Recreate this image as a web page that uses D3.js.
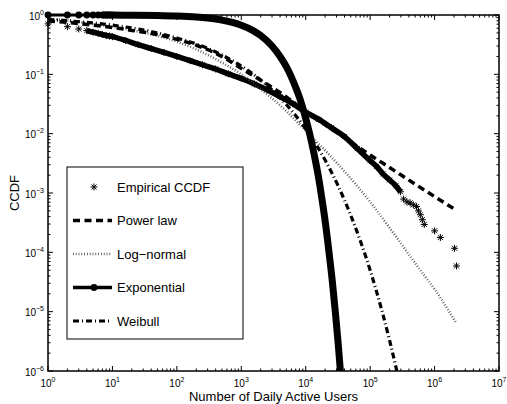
<!DOCTYPE html>
<html>
<head>
<meta charset="utf-8">
<script src="https://d3js.org/d3.v7.min.js"></script>
<style>
  body { margin: 0; background: #fff; }
  text { font-family: "Liberation Sans", Arial, Helvetica, sans-serif; fill: #000; }
</style>
</head>
<body>
<svg width="507" height="404"></svg>
<script>
// values
var empX = [1, 2, 3, 4, 5, 6, 7, 8, 9, 10, 16, 25, 40, 63, 100, 160, 250, 400, 630, 1000,
            1600, 2500, 4000, 6300, 10000, 16000, 25000, 40000, 63000, 100000, 126000, 158000,
            200000, 251000, 295000, 331000, 372000, 417000, 468000, 525000, 562000, 603000,
            646000, 692000, 1000000, 1230000, 2040000, 2190000];
var empY = [0.708, 0.635, 0.581, 0.545, 0.513, 0.490, 0.468, 0.452, 0.442, 0.431, 0.372, 0.316,
            0.272, 0.234, 0.200, 0.170, 0.145, 0.123, 0.102, 0.085, 0.069, 0.055, 0.042, 0.032,
            0.023, 0.0174, 0.0126, 0.0089, 0.0056, 0.0035, 0.0028, 0.0021, 0.00166, 0.00132,
            0.00105, 0.00079, 0.00071, 0.00068, 0.00063, 0.00059, 0.00050, 0.00043, 0.000355,
            0.000295, 0.00023, 0.000178, 0.000117, 0.000059];

var powX = [1, 2, 5, 10, 20, 50, 100, 200, 500, 1000, 2000, 5000, 10000, 20000, 50000,
            100000, 200000, 500000, 1000000, 2190000];
var powY = [0.794, 0.750, 0.676, 0.617, 0.550, 0.468, 0.389, 0.309, 0.200, 0.126, 0.0794,
            0.0417, 0.0234, 0.0141, 0.00724, 0.00437, 0.00269, 0.00141, 0.00087, 0.00051];

var lognX = [1, 2, 5, 10, 20, 50, 100, 200, 500, 1000, 2000, 5000, 10000, 30900, 100000,
             200000, 600000, 1000000, 2190000];
var lognY = [0.871, 0.813, 0.708, 0.631, 0.550, 0.447, 0.355, 0.263, 0.158, 0.100, 0.0562,
             0.0240, 0.0112, 0.00316, 0.00071, 0.00026, 0.000050, 0.000024, 0.0000063];

var expX = [1, 2, 3, 4, 5, 6, 7, 8, 9, 10, 20, 50, 100, 200, 300, 500, 700, 1000, 1500, 2000,
            3000, 4000, 5000, 6000, 7000, 8000, 10000, 12000, 14000, 16000, 18000, 20000,
            23000, 26000, 29000, 32000, 35000];
var expY = [1, 1, 1, 1, 1, 1, 1, 1, 1, 0.996, 0.992, 0.98, 0.96, 0.923, 0.887, 0.82, 0.755,
            0.67, 0.55, 0.45, 0.30, 0.20, 0.135, 0.09, 0.06, 0.041, 0.018, 0.0082, 0.0037,
            0.0017, 0.00075, 0.00034, 0.0001, 0.000031, 0.0000092, 0.0000028, 0.00000083];

var weibX = [1, 2, 5, 10, 20, 50, 100, 200, 500, 1000, 2000, 5000, 10000, 20000, 50000,
             100000, 150000, 200000, 260000];
var weibY = [0.84, 0.80, 0.734, 0.674, 0.605, 0.50, 0.41, 0.325, 0.212, 0.138, 0.080, 0.031,
             0.012, 0.0036, 0.00042, 0.000050, 0.000011, 0.0000033, 0.0000010];

var legendNames = ["Empirical CCDF", "Power law", "Log\u2212normal", "Exponential", "Weibull"];
var xDecades = [0, 1, 2, 3, 4, 5, 6, 7];
var yDecades = [0, -1, -2, -3, -4, -5, -6];

var svg = d3.select("svg"),
    margin = {left: 48, top: 15, right: 8, bottom: 33},
    width = +svg.attr("width") - margin.left - margin.right,
    height = +svg.attr("height") - margin.top - margin.bottom;

var x = d3.scaleLog().domain([1, 1e7]).range([0, width]),
    y = d3.scaleLog().domain([1e-6, 1]).range([height, 0]);

var g = svg.append("g")
    .attr("transform", "translate(" + margin.left + "," + margin.top + ")");

svg.append("defs").append("clipPath").attr("id", "clip")
   .append("rect").attr("x", -6).attr("y", -6).attr("width", width + 12).attr("height", height + 6);

function pts(xs, ys) { return xs.map(function(v, i) { return [v, ys[i]]; }); }

var line = d3.line()
    .x(function(d) { return x(d[0]); })
    .y(function(d) { return y(d[1]); })
    .curve(d3.curveMonotoneX);

// ticks, inside, on all four sides
var minorX = [], minorY = [];
xDecades.slice(0, -1).forEach(function(e) { for (var k = 2; k < 10; k++) minorX.push(k * Math.pow(10, e)); });
yDecades.slice(0, -1).forEach(function(e) { for (var k = 2; k < 10; k++) minorY.push(k * Math.pow(10, e - 1)); });

var ticks = g.append("g").attr("stroke", "#000").attr("stroke-width", 1);
function xTick(v, len) {
  ticks.append("line").attr("x1", x(v)).attr("x2", x(v)).attr("y1", height).attr("y2", height - len);
  ticks.append("line").attr("x1", x(v)).attr("x2", x(v)).attr("y1", 0).attr("y2", len);
}
function yTick(v, len) {
  ticks.append("line").attr("y1", y(v)).attr("y2", y(v)).attr("x1", 0).attr("x2", len);
  ticks.append("line").attr("y1", y(v)).attr("y2", y(v)).attr("x1", width).attr("x2", width - len);
}
minorX.forEach(function(v) { xTick(v, 2.5); });
minorY.forEach(function(v) { yTick(v, 2.5); });
xDecades.forEach(function(e) { xTick(Math.pow(10, e), 5); });
yDecades.forEach(function(e) { yTick(Math.pow(10, e), 5); });

function powLabel(t, e) {
  t.append("tspan").text("10");
  t.append("tspan").attr("dy", -5).attr("font-size", 7).text(e < 0 ? "\u2212" + (-e) : e);
}
xDecades.forEach(function(e) {
  var t = g.append("text").attr("x", x(Math.pow(10, e))).attr("y", height + 16)
    .attr("text-anchor", "middle").attr("font-size", 10);
  powLabel(t, e);
});
yDecades.forEach(function(e) {
  var t = g.append("text").attr("x", -4).attr("y", y(Math.pow(10, e)) + 4.5)
    .attr("text-anchor", "end").attr("font-size", 10);
  powLabel(t, e);
});

// axis titles
g.append("text").attr("x", width / 2).attr("y", height + 30)
  .attr("text-anchor", "middle").attr("font-size", 13).text("Number of Daily Active Users");
g.append("text").attr("transform", "translate(" + (-29) + "," + (height / 2) + ") rotate(-90)")
  .attr("text-anchor", "middle").attr("font-size", 13).text("CCDF");

// curves
var plot = g.append("g").attr("clip-path", "url(#clip)");

var starPath = "M-3.5,0L3.5,0M0,-3.5L0,3.5M-2.5,-2.5L2.5,2.5M-2.5,2.5L2.5,-2.5";

var emp = pts(empX, empY);
// dense run of stars reads as a thick line
plot.append("path").datum(emp.filter(function(d) { return d[0] >= 4 && d[0] <= 295000; }))
  .attr("d", line).attr("fill", "none").attr("stroke", "#000").attr("stroke-width", 5.5);
plot.selectAll(".star").data(emp).enter().append("path")
  .attr("class", "star")
  .attr("transform", function(d) { return "translate(" + x(d[0]) + "," + y(d[1]) + ")"; })
  .attr("d", starPath).attr("fill", "none").attr("stroke", "#000").attr("stroke-width", 1);

plot.append("path").datum(pts(lognX, lognY)).attr("d", line)
  .attr("fill", "none").attr("stroke", "#444").attr("stroke-width", 2.5)
  .attr("stroke-dasharray", "0.8,2");

plot.append("path").datum(pts(powX, powY)).attr("d", line)
  .attr("fill", "none").attr("stroke", "#000").attr("stroke-width", 3.5)
  .attr("stroke-dasharray", "7,4.5");

plot.append("path").datum(pts(weibX, weibY)).attr("d", line)
  .attr("fill", "none").attr("stroke", "#000").attr("stroke-width", 3.2)
  .attr("stroke-dasharray", "6,3,1,3");

var ex = pts(expX, expY);
plot.append("path").datum(ex.filter(function(d) { return d[0] <= 7; })).attr("d", line)
  .attr("fill", "none").attr("stroke", "#000").attr("stroke-width", 3);
plot.append("path").datum(ex.filter(function(d) { return d[0] >= 7; })).attr("d", line)
  .attr("fill", "none").attr("stroke", "#000").attr("stroke-width", 7);
plot.selectAll(".dot").data(ex.filter(function(d) { return d[0] <= 10; })).enter().append("circle")
  .attr("class", "dot").attr("cx", function(d) { return x(d[0]); }).attr("cy", function(d) { return y(d[1]); })
  .attr("r", 3.4).attr("fill", "#000");

// axes box
g.append("rect").attr("width", width).attr("height", height)
  .attr("fill", "none").attr("stroke", "#000").attr("stroke-width", 1.5);

// legend
var lg = svg.append("g").attr("transform", "translate(67,167)");
lg.append("rect").attr("width", 176).attr("height", 172)
  .attr("fill", "#fff").attr("stroke", "#000").attr("stroke-width", 1);
var rowY = legendNames.map(function(n, i) { return 20 + i * 33.5; });
legendNames.forEach(function(n, i) {
  lg.append("text").attr("x", 50).attr("y", rowY[i] + 4.5).attr("font-size", 13).text(n);
});
lg.append("path").attr("transform", "translate(27," + rowY[0] + ")").attr("d", starPath)
  .attr("fill", "none").attr("stroke", "#000").attr("stroke-width", 1);
function sample(i, w, dash, col) {
  lg.append("line").attr("x1", 6).attr("x2", 45).attr("y1", rowY[i]).attr("y2", rowY[i])
    .attr("stroke", col || "#000").attr("stroke-width", w).attr("stroke-dasharray", dash);
}
sample(1, 3.5, "7,4.5");
sample(2, 2.5, "0.8,2", "#444");
sample(3, 3.3, null);
lg.append("circle").attr("cx", 27).attr("cy", rowY[3]).attr("r", 3.4).attr("fill", "#000");
sample(4, 3.2, "6,3,1,3");
</script>
</body>
</html>
